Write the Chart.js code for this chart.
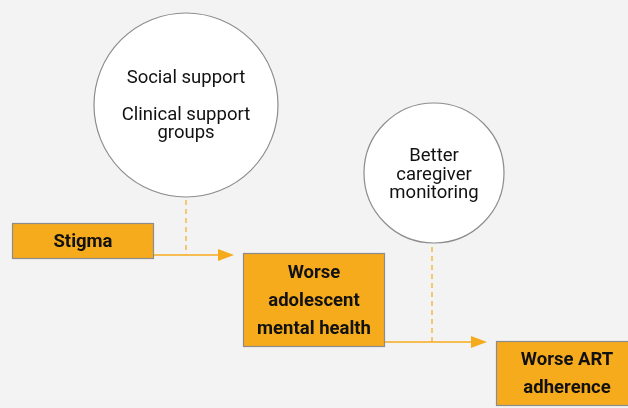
<!DOCTYPE html>
<html>
<head>
<meta charset="utf-8">
<script src="https://cdn.jsdelivr.net/npm/chart.js@4/dist/chart.umd.min.js"></script>
<style>
  html, body { margin: 0; padding: 0; background: #f2f3f2; }
  canvas { display: block; }
</style>
</head>
<body>
<canvas id="chart" width="628" height="408"></canvas>
<script>
// moderators (circles) and path steps (boxes)
const circleLabels = [
  ['Social support', '', 'Clinical support', 'groups'],
  ['Better', 'caregiver', 'monitoring']
];
const circleX = [186, 434];
const circleY = [105, 173];
const circleR = [92, 70];

const boxLabels = [
  ['Stigma'],
  ['Worse', 'adolescent', 'mental health'],
  ['Worse ART', 'adherence']
];
// box extents: left, right, top, bottom
const boxLeft = [12, 243, 496];
const boxRight = [154, 385, 640];
const boxTop = [223, 253, 341];
const boxBottom = [259, 347, 406];

// arrows between boxes: y level, from x, to x; moderator link x
const arrowY = [255, 342];
const arrowFrom = [154, 385];
const arrowTo = [234, 487];
const linkX = [186, 432];
const linkTop = [200, 247];

const ORANGE = '#f6ab1d';
const GREY = '#8c8c8c';

const diagram = {
  id: 'diagram',
  beforeDatasetsDraw(chart) {
    const { ctx, scales: { x, y } } = chart;
    ctx.save();

    // dashed moderator links
    ctx.strokeStyle = ORANGE;
    ctx.lineWidth = 1.2;
    ctx.setLineDash([5, 4]);
    linkX.forEach((lx, i) => {
      ctx.beginPath();
      ctx.moveTo(x.getPixelForValue(lx), y.getPixelForValue(linkTop[i]));
      ctx.lineTo(x.getPixelForValue(lx), y.getPixelForValue(arrowY[i]));
      ctx.stroke();
    });
    ctx.setLineDash([]);

    // arrows
    arrowY.forEach((ay, i) => {
      const py = y.getPixelForValue(ay);
      const x0 = x.getPixelForValue(arrowFrom[i]);
      const x1 = x.getPixelForValue(arrowTo[i]);
      ctx.strokeStyle = ORANGE;
      ctx.lineWidth = 1.5;
      ctx.beginPath();
      ctx.moveTo(x0, py);
      ctx.lineTo(x1 - 10, py);
      ctx.stroke();
      ctx.fillStyle = ORANGE;
      ctx.beginPath();
      ctx.moveTo(x1, py);
      ctx.lineTo(x1 - 16, py - 6);
      ctx.lineTo(x1 - 16, py + 6);
      ctx.closePath();
      ctx.fill();
    });

    // boxes
    boxLabels.forEach((lines, i) => {
      const l = x.getPixelForValue(boxLeft[i]);
      const r = x.getPixelForValue(boxRight[i]);
      const t = y.getPixelForValue(boxTop[i]);
      const b = y.getPixelForValue(boxBottom[i]);
      ctx.fillStyle = ORANGE;
      ctx.fillRect(l, t, r - l, b - t);
      ctx.strokeStyle = GREY;
      ctx.lineWidth = 1.2;
      ctx.strokeRect(l + 0.5, t + 0.5, r - l - 1, b - t - 1);

      ctx.fillStyle = '#111';
      ctx.font = 'bold 18.5px Roboto';
      ctx.textAlign = 'center';
      ctx.textBaseline = 'middle';
      const cx = (l + Math.min(r, 638)) / 2;
      const lh = 28;
      const cy = (t + b) / 2 + 1;
      lines.forEach((s, k) => {
        ctx.fillText(s, cx, cy + (k - (lines.length - 1) / 2) * lh);
      });
    });
    ctx.restore();
  },
  afterDatasetsDraw(chart) {
    const { ctx, scales: { x, y } } = chart;
    ctx.save();
    ctx.fillStyle = '#111';
    ctx.font = '18.5px Roboto';
    ctx.textAlign = 'center';
    ctx.textBaseline = 'middle';
    circleLabels.forEach((lines, i) => {
      const cx = x.getPixelForValue(circleX[i]);
      const cy = y.getPixelForValue(circleY[i]);
      const lh = 18.5;
      lines.forEach((s, k) => {
        ctx.fillText(s, cx, cy + (k - (lines.length - 1) / 2) * lh + (i === 0 ? 1 : 2));
      });
    });
    ctx.restore();
  }
};

new Chart(document.getElementById('chart').getContext('2d'), {
  type: 'bubble',
  data: {
    datasets: [{
      data: circleX.map((cx, i) => ({ x: cx, y: circleY[i], r: circleR[i] })),
      backgroundColor: '#ffffff',
      borderColor: GREY,
      borderWidth: 1.2,
      clip: false
    }]
  },
  options: {
    responsive: false,
    animation: false,
    events: [],
    layout: { padding: 0, autoPadding: false },
    plugins: { legend: { display: false }, tooltip: { enabled: false } },
    scales: {
      x: { type: 'linear', min: 0, max: 628, display: false },
      y: { type: 'linear', min: 0, max: 408, reverse: true, display: false }
    }
  },
  plugins: [diagram]
});
</script>
</body>
</html>
